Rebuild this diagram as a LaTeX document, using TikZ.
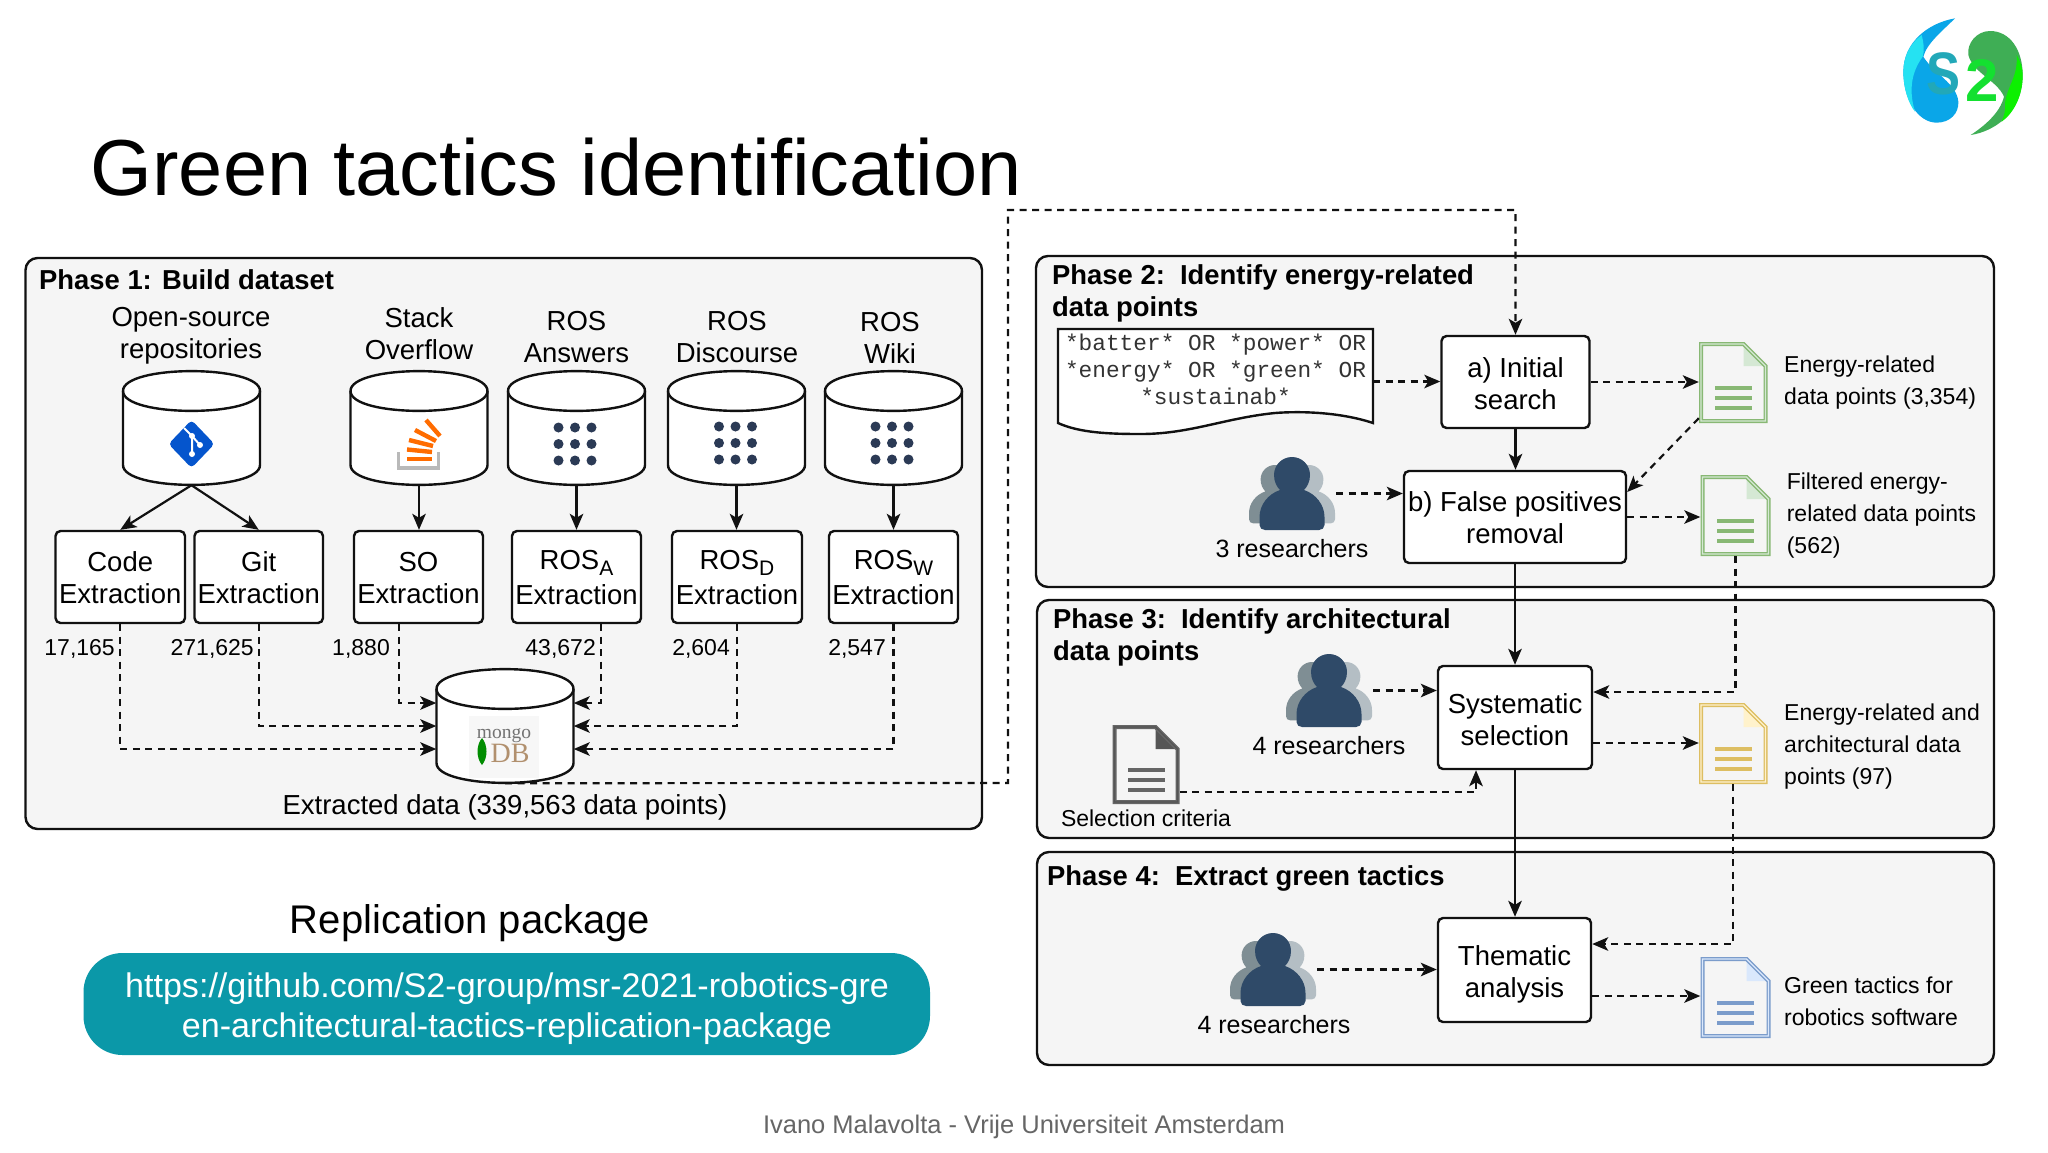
\documentclass[tikz,border=0pt]{standalone}
\usepackage{fontspec}
\setmainfont{Liberation Sans}
\newfontfamily\codefont{Liberation Mono}
\newfontfamily\dbfont{Liberation Serif}
\usetikzlibrary{arrows.meta,calc}
\definecolor{panelfill}{HTML}{F5F5F5}
\definecolor{ink}{HTML}{111111}
\definecolor{teal}{HTML}{0B98A8}
\definecolor{personDark}{HTML}{2F4A68}
\definecolor{personMid}{HTML}{7F8E94}
\definecolor{personLight}{HTML}{B4BEC4}
\definecolor{dotc}{HTML}{2B3A55}
\definecolor{dgreen}{HTML}{88B874}
\definecolor{lgreen}{HTML}{D5E8D4}
\definecolor{dyellow}{HTML}{DDBE62}
\definecolor{lyellow}{HTML}{FFF2CC}
\definecolor{dblue}{HTML}{7B9CCB}
\definecolor{lblue}{HTML}{DAE8FC}
\definecolor{dgray}{HTML}{666666}
\definecolor{foldgray}{HTML}{555555}
\definecolor{logoCyan}{HTML}{25E2F2}
\definecolor{logoBlue}{HTML}{0AA6E8}
\definecolor{logoDark}{HTML}{3FAE55}
\definecolor{logoBright}{HTML}{0CF000}
\definecolor{logoS}{HTML}{22A8B8}
\definecolor{logoTwo}{HTML}{14E030}
\newcommand\fs[2]{\fontsize{#1}{#2}\selectfont}
\newcommand\Sub[1]{\raisebox{-6pt}{\fs{21}{21}#1}}
\tikzset{
  panel/.style={draw=ink,fill=panelfill,line width=2.4pt,rounded corners=12pt,inner sep=0pt},
  box/.style={draw=ink,fill=white,line width=2.4pt,rounded corners=5pt,inner sep=0pt},
  pill/.style={fill=teal,rounded corners=39pt,inner sep=0pt},
  hit/.style={inner sep=0pt},
  ttl/.style={anchor=west,inner sep=0pt,align=left,font=\bfseries\fs{27.4}{32}},
  lab/.style={inner sep=0pt,align=center,font=\fs{27.5}{32}},
  sm/.style={inner sep=0pt,align=left,anchor=west,font=\fs{23}{32}},
  num/.style={inner sep=0pt,anchor=east,font=\fs{23}{28}},
  smc/.style={inner sep=0pt,align=center,font=\fs{25}{28}},
  flow/.style={line width=2.2pt,draw=ink,-{Stealth[length=16pt,width=13.5pt,inset=4pt]}},
  dflow/.style={flow,dash pattern=on 7pt off 5.5pt},
  cyl/.style={draw=ink,fill=white,line width=2.4pt},
}
% style, name, x1, y1, x2, y2, text
\newcommand\BoxAt[7]{\node[#1,minimum width={(#5)-(#3)},minimum height={(#6)-(#4)}] (#2) at ({((#3)+(#5))/2},{((#4)+(#6))/2}) {#7};}
% name, x1, y1, x2, y2, text offset, text
\newcommand\BoxTxt[7]{\BoxAt{box}{#1}{#2}{#3}{#4}{#5}{}\node[lab,yshift=-#6pt] (#1txt) at (#1.center) {#7};}
% name, cx, top, height
\newcommand\CylAt[4]{%
  \node[hit,minimum width=137,minimum height=#4] (#1) at (#2,{#3+#4/2}) {};
  \begin{scope}[shift={(#2,#3)}]
    \draw[cyl] (-68.5,20) -- (-68.5,{#4-20}) .. controls (-68.5,{#4+6.5}) and (68.5,{#4+6.5}) .. (68.5,{#4-20}) -- (68.5,20) .. controls (68.5,-6.5) and (-68.5,-6.5) .. (-68.5,20) -- cycle;
    \draw[cyl,fill=none] (-68.5,20) .. controls (-68.5,46.5) and (68.5,46.5) .. (68.5,20);
  \end{scope}}
% name, x1, y1, x2, y2, stroke, fold fill  (the outer edge of the stroke is on the box)
\newcommand\DocAt[7]{%
  \node[hit,minimum width={(#4)-(#2)},minimum height={(#5)-(#3)}] (#1) at ({((#2)+(#4))/2},{((#3)+(#5))/2}) {};
  \begin{scope}[shift={(#2,#3)}]
    \pgfmathsetmacro\dw{#4-#2-2}\pgfmathsetmacro\dh{#5-#3-2}
    \pgfmathsetmacro\cx{(#4-#2)/2}\pgfmathsetmacro\cy{(#5-#3)/2+7}
    \fill[#7] ({\dw-22},2) -- (\dw,24) -- ({\dw-22},24) -- cycle;
    \draw[draw=#6,line width=4pt,line join=miter] (2,2) -- ({\dw-22},2) -- (\dw,24) -- (\dw,\dh) -- (2,\dh) -- cycle;
    \draw[draw=#7,line width=1.1pt] (2,2) -- ({\dw-22},2) -- (\dw,24) -- (\dw,\dh) -- (2,\dh) -- cycle;
    \foreach \dy in {0,10,20}{\fill[#6] ({\cx-18.5},{\cy+\dy-4}) rectangle ({\cx+18.5},{\cy+\dy+.5});}
  \end{scope}}
\newcommand\PersonPath{(0,0) .. controls (10,0) and (18,8) .. (18,18) .. controls (18,25) and (15,30) .. (12,33) .. controls (24,37) and (32.5,48) .. (32.5,60) -- (32.5,68) .. controls (32.5,71) and (30,73) .. (27,73) -- (-27,73) .. controls (-30,73) and (-32.5,71) .. (-32.5,68) -- (-32.5,60) .. controls (-32.5,48) and (-24,37) .. (-12,33) .. controls (-15,30) and (-18,25) .. (-18,18) .. controls (-18,8) and (-10,0) .. (0,0) -- cycle}
% name, cx, top
\newcommand\PersonAt[3]{%
  \node[hit,minimum width=88,minimum height=73] (#1) at (#2,{#3+36.5}) {};
  \begin{scope}[shift={(#2,#3)}]
    \begin{scope}[shift={(17,8)},scale=.8]\fill[personLight] \PersonPath;\end{scope}
    \begin{scope}[shift={(-17,8)},scale=.8]\fill[personMid] \PersonPath;\end{scope}
    \fill[personDark] \PersonPath;
  \end{scope}}
% cx, cy
\newcommand\DotsAt[2]{\foreach \dx in {-16.5,0,16.5}{\foreach \dy in {-16.5,0,16.5}{\fill[dotc] ({#1+\dx},{#2+\dy}) circle (5);}}}
\begin{document}
\begin{tikzpicture}[x=1pt,y=-1pt]
\useasboundingbox (0,0) rectangle (2048,1152);
\fill[white] (0,0) rectangle (2048,1152);

% title
\node[hit,anchor=west,font=\fs{79.4}{90}] (title) at (90.5,167) {Green tactics identification};

% logo
\begin{scope}[shift={(1860,0)},scale=1/3]
  \fill[logoBlue] (285,55) .. controls (200,70) and (130,130) .. (130,215) .. controls (130,300) and (175,368) .. (230,368) .. controls (270,368) and (297,340) .. (295,305) .. controls (290,250) and (220,220) .. (190,170) .. controls (200,130) and (250,90) .. (285,55) -- cycle;
  \fill[logoCyan] (185,105) .. controls (150,130) and (130,170) .. (130,215) .. controls (130,265) and (145,310) .. (165,335) .. controls (145,270) and (155,215) .. (188,170) .. controls (195,150) and (190,125) .. (185,105) -- cycle;
  \fill[logoDark] (332,405) .. controls (400,395) and (488,340) .. (488,225) .. controls (488,150) and (450,93) .. (390,93) .. controls (350,93) and (320,130) .. (325,165) .. controls (340,220) and (410,240) .. (432,290) .. controls (420,340) and (370,380) .. (332,405) -- cycle;
  \fill[logoBright] (470,165) .. controls (482,185) and (488,205) .. (488,225) .. controls (488,290) and (460,340) .. (425,365) .. controls (432,345) and (437,335) .. (435,310) .. controls (440,260) and (475,230) .. (470,165) -- cycle;
\end{scope}
\node[hit,text=logoS,font=\bfseries\fs{60}{60},xscale=.85] (logoS) at (1943,74) {S};
\node[hit,text=logoTwo,font=\bfseries\fs{60}{60}] (logo2) at (1982,81) {2};

% panels
\BoxAt{panel}{p1}{25.5}{258}{982}{829}{}
\BoxAt{panel}{p2}{1036}{256}{1994}{587}{}
\BoxAt{panel}{p3}{1037}{600}{1994}{838}{}
\BoxAt{panel}{p4}{1037}{852}{1994}{1065}{}

% phase titles
\node[ttl] (t1) at (39,279.5) {Phase 1: Build dataset};
\node[ttl] (t2) at (1052,293.7) {Phase 2:\ \ Identify energy-related\\data points};
\node[ttl] (t3) at (1053,637) {Phase 3:\ \ Identify architectural\\data points};
\node[ttl] (t4) at (1047,878.5) {Phase 4:\ \ Extract green tactics};

% phase 1 sources
\node[lab] (lopen) at (191,336) {Open-source\\repositories};
\node[lab] (lstack) at (419,334) {Stack\\Overflow};
\node[lab] (lrosa) at (576.5,337.5) {ROS\\Answers};
\node[lab] (lrosd) at (737,337.5) {ROS\\Discourse};
\node[lab] (lrosw) at (890,337.5) {ROS\\Wiki};

\CylAt{copen}{191.5}{371}{114}
\CylAt{cstack}{419}{371}{114}
\CylAt{crosa}{576.5}{371}{114}
\CylAt{crosd}{736.5}{371}{114}
\CylAt{crosw}{893.5}{371}{114}
\CylAt{mongo}{505}{669}{114}

% git icon
\fill[logoBlue!60!blue!85!black,rounded corners=4pt] (191.5,420) -- (214.5,444) -- (191.5,468) -- (168.5,444) -- cycle;
\draw[white,line width=2pt] (184,428) -- (192,436) -- (192,454);
\draw[white,line width=2pt] (192,436) -- (200,445);
\fill[white] (192,436) circle (3) (192,454) circle (3) (200,445) circle (3);

% stack overflow icon
\draw[gray!55,line width=3.4pt] (398.5,452) -- (398.5,468) -- (438.5,468) -- (438.5,452);
\begin{scope}[draw=orange!85!red,line width=4.4pt]
  \draw (407,459) -- (432,459);
  \draw (407,449.5) -- (432,452);
  \draw (409,440) -- (433,446);
  \draw (415,430) -- (436,441);
  \draw (426,420) -- (440,436);
\end{scope}

% dots
\DotsAt{575}{444}
\DotsAt{735.5}{443}
\DotsAt{892}{443}

% mongo logo
\fill[black!3] (469,716) rectangle (539,778);
\node[hit,text=black!55,font=\dbfont\fs{19.5}{20}] (mg) at (504,735.5) {mongo};
\fill[green!55!black] (482,738) .. controls (476,745) and (476,758) .. (482,765) .. controls (488,758) and (488,745) .. (482,738) -- cycle;
\node[hit,text=brown!75!black!70,font=\dbfont\fs{28}{28}] (mdb) at (510,753) {DB};

% extraction boxes
\BoxTxt{code}{55.5}{531}{185}{623}{1}{Code\\Extraction}
\BoxTxt{git}{194.5}{531}{323}{623}{1}{Git\\Extraction}
\BoxTxt{so}{354}{531}{483}{623}{1}{SO\\Extraction}
\BoxTxt{rosa}{512}{531}{641}{623}{0.5}{ROS\Sub{A}\\[3pt]Extraction}
\BoxTxt{rosd}{672}{531}{802}{623}{0.5}{ROS\Sub{D}\\[3pt]Extraction}
\BoxTxt{rosw}{829}{531}{958}{623}{0.5}{ROS\Sub{W}\\[3pt]Extraction}

% counts
\node[num] (n1) at (115,649) {17,165};
\node[num] (n2) at (254,649) {271,625};
\node[num] (n3) at (390,649) {1,880};
\node[num] (n4) at (596,649) {43,672};
\node[num] (n5) at (730,649) {2,604};
\node[num] (n6) at (886,649) {2,547};
\node[lab] (ext) at (505,807.5) {Extracted data (339,563 data points)};

% phase 1 connectors
\coordinate (mwa) at ($(mongo.west)+(0,23)$);
\coordinate (mwc) at ($(mongo.west)+(0,-23)$);
\coordinate (mea) at ($(mongo.east)+(0,23)$);
\coordinate (mec) at ($(mongo.east)+(0,-23)$);
\coordinate (soout) at ($(so.south)+(-19.5,0)$);
\coordinate (rosaout) at ($(rosa.south)+(24.5,0)$);
\draw[flow] (copen.south) -- (code.north);
\draw[flow] (copen.south) -- (git.north);
\draw[flow] (cstack.south) -- (cstack.south |- so.north);
\draw[flow] (crosa.south) -- (crosa.south |- rosa.north);
\draw[flow] (crosd.south) -- (crosd.south |- rosd.north);
\draw[flow] (crosw.south) -- (crosw.south |- rosw.north);
\draw[dflow] (code.south) |- (mwa);
\draw[dflow] (git.south) |- (mongo.west);
\draw[dflow] (soout) |- (mwc);
\draw[dflow] (rosaout) |- (mec);
\draw[dflow] (rosd.south) |- (mongo.east);
\draw[dflow] (rosw.south) |- (mea);

% phase 2
\draw[cyl] (1058,329) -- (1373,329) -- (1373,423) .. controls (1340,412) and (1300,411) .. (1275,413) .. controls (1225,418) and (1190,434) .. (1141,434) .. controls (1110,434) and (1080,433) .. (1058,423) -- cycle;
\node[hit,minimum width=315,minimum height=105] (query) at (1215.5,381.5) {};
\node[hit,align=center,text=black!80,font=\codefont\fs{22.8}{27.3}] (qtext) at (1215.5,369.5) {*batter* OR *power* OR\\*energy* OR *green* OR\\*sustainab*};
\BoxTxt{search}{1441.5}{336}{1589.5}{428}{2}{a) Initial\\search}
\BoxTxt{fpos}{1404}{471}{1626}{563}{1}{b) False positives\\removal}
\DocAt{dga}{1699}{342}{1767.5}{423}{dgreen}{lgreen}
\DocAt{dgb}{1700.5}{475}{1770.5}{556}{dgreen}{lgreen}
\node[sm] (tga) at (1784,382.5) {Energy-related\\data points (3,354)};
\node[sm] (tgb) at (1786.6,515.5) {Filtered energy-\\related data points\\(562)};
\PersonAt{rthree}{1292}{457}
\node[smc] (lthree) at (1292,549) {3 researchers};

% phase 3
\BoxTxt{sys}{1438}{666}{1592}{769}{2.5}{Systematic\\selection}
\PersonAt{rfour}{1329}{654}
\node[smc] (lfour) at (1329,746) {4 researchers};
\DocAt{dsel}{1112.5}{725}{1179.5}{804}{dgray}{foldgray}
\node[hit,font=\fs{23}{28}] (lsel) at (1146,818) {Selection criteria};
\DocAt{dyel}{1699}{703}{1767.5}{784}{dyellow}{lyellow}
\node[sm] (tyel) at (1784,747) {Energy-related and\\architectural data\\points (97)};

% phase 4
\BoxTxt{them}{1438}{918}{1591}{1022}{4.5}{Thematic\\analysis}
\PersonAt{rfive}{1273}{933}
\node[smc] (lfive) at (1274,1025) {4 researchers};
\DocAt{dblue}{1700.5}{957}{1770.5}{1038}{dblue}{lblue}
\node[sm] (tblue) at (1784,1001) {Green tactics for\\robotics software};

% right side connectors
\coordinate (turnA) at (1008,783);
\coordinate (turnB) at (1008,210);
\coordinate (dgaout) at ($(dga.south west)+(0,-5)$);
\coordinate (fposin) at ($(fpos.east)+(0,-25)$);
\coordinate (sysin) at ($(sys.east)+(0,-25.5)$);
\coordinate (sysout) at ($(sys.east)+(0,25.5)$);
\coordinate (selout) at ($(dsel.south east)+(0,-12)$);
\coordinate (sysbot) at ($(sys.south)+(-39,0)$);
\coordinate (themin) at ($(them.east)+(0,-26)$);
\coordinate (themout) at ($(them.east)+(0,26)$);
\draw[dflow] (mongo.south) -- (turnA) -- (turnB) -| (search.north);
\draw[dflow] (query.east) -- (query.east -| search.west);
\draw[dflow] (search.east) -- (search.east -| dga.west);
\draw[flow] (search.south) -- (search.south |- fpos.north);
\draw[dflow] (dgaout) -- (fposin);
\draw[dflow] (rthree.east) -- (rthree.east -| fpos.west);
\draw[dflow] (fpos.east) -- (fpos.east -| dgb.west);
\draw[flow] (fpos.south) -- (fpos.south |- sys.north);
\draw[dflow] (dgb.south) |- (sysin);
\draw[dflow] (rfour.east) -- (rfour.east -| sys.west);
\draw[dflow] (selout) -| (sysbot);
\draw[dflow] (sysout) -- (sysout -| dyel.west);
\draw[flow] (sys.south) -- (sys.south |- them.north);
\draw[dflow] (dyel.south) |- (themin);
\draw[dflow] (rfive.east) -- (rfive.east -| them.west);
\draw[dflow] (themout) -- (themout -| dblue.west);

% replication package
\node[lab,font=\fs{40}{44}] (rep) at (470,923) {Replication package};
\BoxAt{pill}{url}{83.5}{953}{930}{1055}{}
\node[inner sep=0pt,align=center,text=white,font=\fs{34.1}{40}] (urltxt) at (507,1009) {https://github.com/S2-group/msr-2021-robotics-gre\\en-architectural-tactics-replication-package};

% footer
\node[hit,text=black!60,font=\fs{25.5}{30}] (foot) at (1024,1126.5) {Ivano Malavolta - Vrije Universiteit Amsterdam};
\end{tikzpicture}
\end{document}
